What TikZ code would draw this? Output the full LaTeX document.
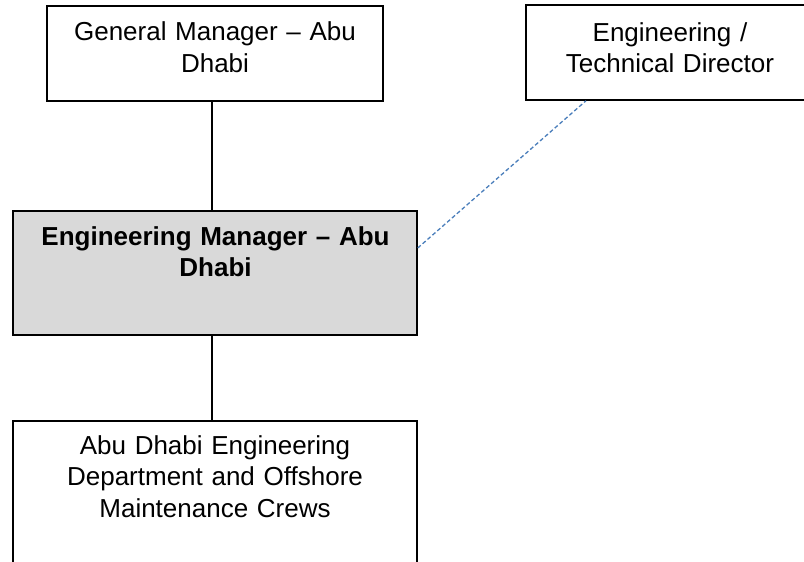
\documentclass[tikz,border=0pt]{standalone}
\usepackage{fontspec}
\setmainfont{Liberation Sans}
\definecolor{boxgray}{HTML}{D9D9D9}
\definecolor{dashblue}{HTML}{4A7EBB}
\begin{document}
\begin{tikzpicture}[x=1pt,y=-1pt,
  box/.style={draw=black, line width=1.5pt, rectangle, inner sep=0pt},
  txt/.style={font=\fontsize{26}{31.5}\selectfont, align=center, inner sep=0pt, anchor=base},
  conn/.style={draw=black, line width=1.5pt},
  dotted link/.style={draw=dashblue, line width=1.3pt, dash pattern=on 4pt off 2.5pt}]
\useasboundingbox (0,0) rectangle (804,562);
\clip (0,0) rectangle (804,562);
% boxes
\node[box, minimum width=336pt, minimum height=95pt] (gm) at (215,53.5) {};
\node[box, minimum width=288pt, minimum height=95pt] (etd) at (670,52.5) {};
\node[box, fill=boxgray, minimum width=404pt, minimum height=124pt] (em) at (215,273) {};
\node[box, minimum width=404pt, minimum height=200pt] (dept) at (215,521) {};
% texts
\node[txt, text width=330pt] (gmt) at (215,41) {General Manager -- Abu\\Dhabi};
\node[txt, text width=280pt] (etdt) at (670,41.5) {Engineering /\\Technical Director};
\node[txt, text width=400pt, font=\fontsize{26}{31.5}\selectfont\bfseries] (emt) at (215.5,245) {Engineering Manager -- Abu\\Dhabi};
\node[txt, text width=400pt] (deptt) at (215,454) {Abu Dhabi Engineering\\Department and Offshore\\Maintenance Crews};
% connectors
\draw[conn] ([xshift=-3pt]gm.south) -- ([xshift=-3pt]em.north);
\draw[conn] ([xshift=-3pt]em.south) -- ([xshift=-3pt]dept.north);
\draw[dotted link] ([yshift=25pt]em.east) -- ([xshift=-84pt]etd.south);
\end{tikzpicture}
\end{document}
